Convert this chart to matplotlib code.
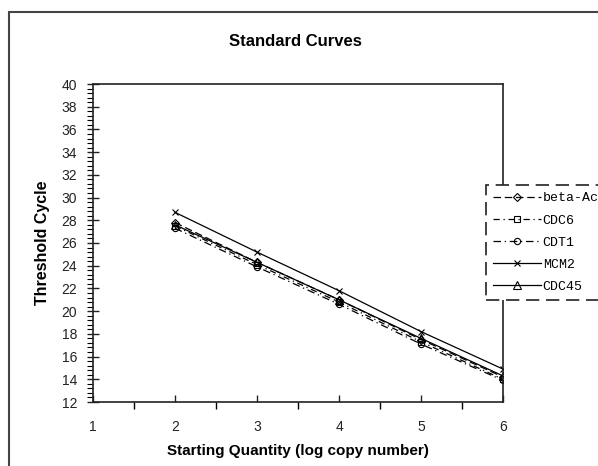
import matplotlib
matplotlib.use("Agg")
import matplotlib.pyplot as plt
from matplotlib.patches import Rectangle
from matplotlib.ticker import MultipleLocator, FixedLocator

# ---- data ----
log_qty = [2, 3, 4, 5, 6]
series_names = ["beta-Actin", "CDC6", "CDT1", "MCM2", "CDC45"]
beta_actin = [27.8, 24.3, 21.0, 17.5, 14.2]
cdc6 = [27.5, 24.1, 20.8, 17.3, 14.0]
cdt1 = [27.3, 23.9, 20.6, 17.1, 13.9]
mcm2 = [28.7, 25.2, 21.8, 18.2, 14.9]
cdc45 = [27.6, 24.3, 21.0, 17.6, 14.3]
x_ticks = [1, 2, 3, 4, 5, 6]
y_ticks = list(range(12, 41, 2))

series_values = [beta_actin, cdc6, cdt1, mcm2, cdc45]
styles = [
    dict(ls=(0, (6, 3)), marker="D", ms=4.5),
    dict(ls=(0, (5, 3, 1, 3)), marker="s", ms=4.5),
    dict(ls=(0, (6, 3, 1, 3)), marker="o", ms=4.5),
    dict(ls="-", marker="x", ms=5),
    dict(ls="-", marker="^", ms=5.5),
]

plt.rcParams["font.family"] = ["Liberation Sans", "DejaVu Sans"]

fig = plt.figure(figsize=(5.98, 4.66), dpi=100)
W, H = 598, 466

# outer chart-area frame (extends beyond the right/bottom edges)
fig.patches.append(Rectangle((9 / W, -0.1), 1.2, 1 - 12 / H + 0.1,
                             transform=fig.transFigure, fill=False,
                             edgecolor="#444444", lw=1.5))

ax = fig.add_axes([93 / W, 1 - 402 / H, (503 - 93) / W, (402 - 84) / H])

for name, vals, st in zip(series_names, series_values, styles):
    ax.plot(log_qty, vals, color="black", lw=0.9, linestyle=st["ls"],
            marker=st["marker"], ms=st["ms"], mfc="none", mec="black",
            mew=0.8, label=name)

ax.set_xlim(1, 6)
ax.set_ylim(12, 40)
ax.xaxis.set_major_locator(FixedLocator(x_ticks))
ax.xaxis.set_minor_locator(FixedLocator([1.5, 2.5, 3.5, 4.5, 5.5]))
ax.yaxis.set_major_locator(FixedLocator(y_ticks))
ax.yaxis.set_minor_locator(MultipleLocator(0.4))

ax.tick_params(axis="x", which="major", direction="in", length=5,
               width=1, labelsize=10, pad=13, colors="#222222")
ax.tick_params(axis="x", which="minor", direction="out", length=5, width=1)
ax.tick_params(axis="y", which="major", direction="inout", length=9,
               width=1, labelsize=10, pad=7, colors="#222222")
ax.tick_params(axis="y", which="minor", direction="out", length=4, width=0.8)

for sp in ax.spines.values():
    sp.set_color("#222222")
    sp.set_linewidth(1.2)

ax.set_xlabel("Starting Quantity (log copy number)", fontsize=11,
              fontweight="bold", labelpad=7)
ax.set_ylabel("Threshold Cycle", fontsize=11.5, fontweight="bold", labelpad=8)
fig.text(295 / W, 1 - 41 / H, "Standard Curves", fontsize=12,
         fontweight="bold", ha="center", va="center")

leg = ax.legend(loc="upper left", bbox_to_anchor=(486 / W, 1 - 185 / H),
                bbox_transform=fig.transFigure, frameon=True, fancybox=False,
                prop={"family": "Liberation Mono", "size": 9.5},
                handlelength=3.6, handletextpad=0.15, labelspacing=0.75,
                borderaxespad=0, borderpad=0.55, framealpha=1)
fr = leg.get_frame()
fr.set_edgecolor("#222222")
fr.set_linewidth(1.2)
fr.set_linestyle((0, (8, 4)))

fig.savefig("out.png", dpi=100)
